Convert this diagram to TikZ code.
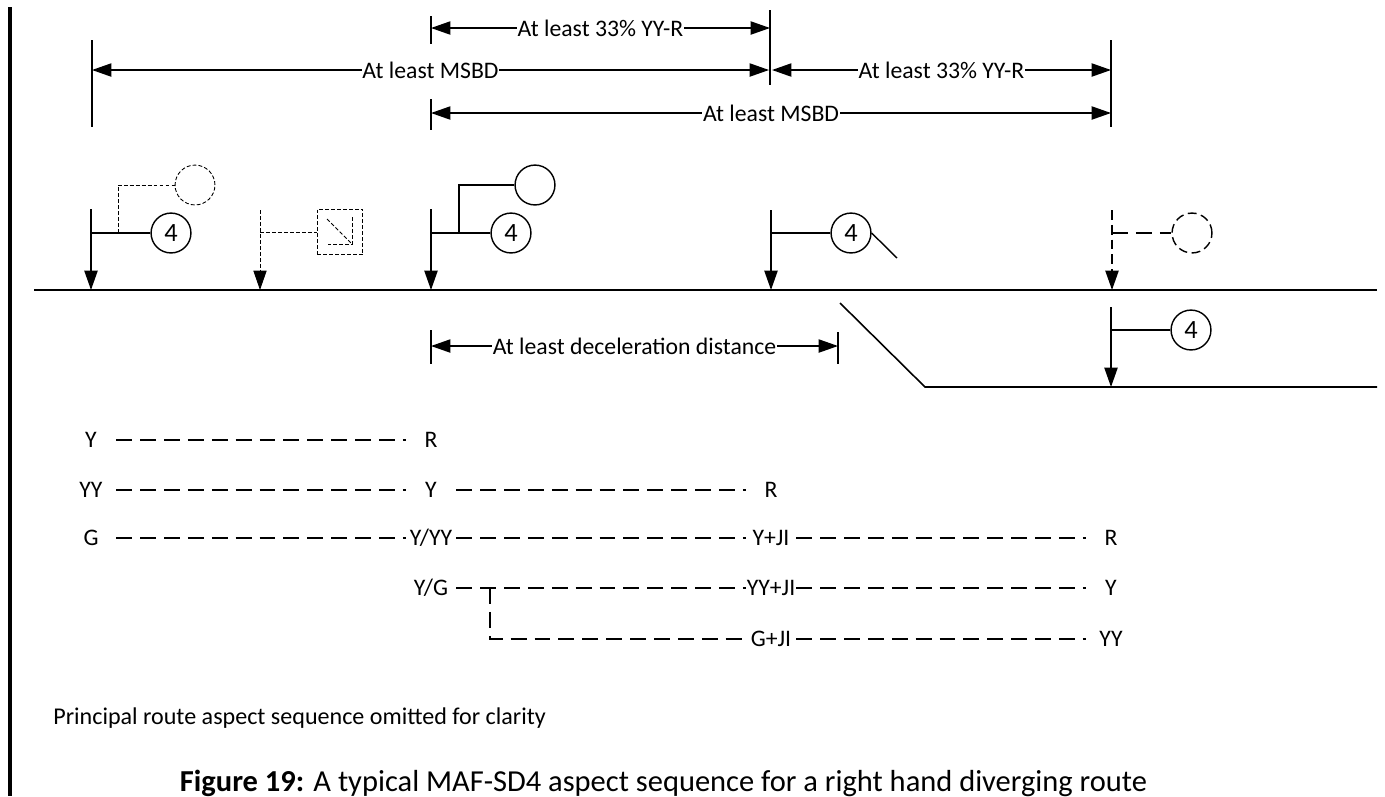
\documentclass[tikz,border=0pt]{standalone}
\usepackage{fontspec}
\setmainfont{Carlito}
\usetikzlibrary{arrows.meta}
\tikzset{
	px/.style={x=0.02cm,y=-0.02cm},
	tip/.style={>={Stealth[length=11pt,width=7.5pt,inset=0pt,black]}},
	dimline/.style={line width=0.8pt,tip,<->},
	dimtext/.style={fill=white,inner sep=0.3pt,font=\fontsize{13.5}{15}\selectfont},
	tick/.style={line width=0.8pt},
	post/.style={line width=0.9pt,tip,->},
	sig/.style={circle,draw,line width=0.8pt,minimum size=22.7pt,inner sep=0pt,font=\fontsize{15}{17}\selectfont},
	thindash/.style={line width=0.5pt,dash pattern=on 2.2pt off 1.2pt},
	bigdash/.style={line width=0.9pt,dash pattern=on 9pt off 4.6pt},
	asp/.style={minimum width=28.3pt,inner sep=0pt,font=\fontsize{13.5}{15}\selectfont},
}
\begin{document}
\begin{tikzpicture}[px]
		\useasboundingbox (0,0) rectangle (1385,796);
		\fill[black] (8,7) rectangle (12,796);

		% dimension ticks
		\coordinate (ta1) at (92,40);
		\coordinate (ta2) at (92,127);
		\coordinate (tb1) at (431,16);
		\coordinate (tb2) at (431,44);
		\coordinate (tc1) at (431,99);
		\coordinate (tc2) at (431,130);
		\coordinate (td1) at (770,10);
		\coordinate (td2) at (770,85);
		\coordinate (te1) at (1111,40);
		\coordinate (te2) at (1111,127);
		\coordinate (tf1) at (431,330);
		\coordinate (tf2) at (431,364);
		\coordinate (tg1) at (838,332);
		\coordinate (tg2) at (838,364);
		\draw[tick] (ta1) -- (ta2);
		\draw[tick] (tb1) -- (tb2);
		\draw[tick] (tc1) -- (tc2);
		\draw[tick] (td1) -- (td2);
		\draw[tick] (te1) -- (te2);
		\draw[tick] (tf1) -- (tf2);
		\draw[tick] (tg1) -- (tg2);

		% dimension arrows
		\draw[dimline] (431,28) coordinate (da) -- node[dimtext] (dat) {At least 33\% YY-R} (770,28) coordinate (db);
		\draw[dimline] (92,70) coordinate (dc) -- node[dimtext] (dct) {At least MSBD} (769,70) coordinate (dd);
		\draw[dimline] (772,70) coordinate (de) -- node[dimtext] (det) {At least 33\% YY-R} (1111,70) coordinate (df);
		\draw[dimline] (431,113) coordinate (dg) -- node[dimtext] (dgt) {At least MSBD} (1111,113) coordinate (dh);
		\draw[dimline] (431,346) coordinate (di) -- node[dimtext] (dit) {At least deceleration distance} (838,346) coordinate (dj);

		% tracks
		\coordinate (tra) at (34,290);
		\coordinate (trb) at (1377,290);
		\coordinate (trc) at (840,303);
		\coordinate (trd) at (925,387);
		\coordinate (tre) at (1377,387);
		\draw[line width=0.9pt] (tra) -- (trb);
		\draw[line width=0.9pt] (trc) -- (trd) -- (tre);

		% signals
		\node[sig] (sa) at (171,233) {4};
		\node[sig,thindash] (fa) at (195,185) {};
		\coordinate (pa1) at (91,209);
		\coordinate (pa2) at (91,290);
		\coordinate (aa) at (91,233);
		\coordinate (ba) at (118,233);
		\draw[post] (pa1) -- (pa2);
		\draw[line width=0.8pt] (aa) -- (sa);
		\draw[thindash] (ba) |- (fa);

		\node[draw,thindash,minimum size=26pt,inner sep=0pt] (sb) at (340,232) {};
		\coordinate (pb1) at (260,210);
		\coordinate (pb2) at (260,290);
		\coordinate (ab) at (260,232);
		\coordinate (ib1) at (327,219);
		\coordinate (ib2) at (352,244);
		\coordinate (ib3) at (352,217);
		\coordinate (ib4) at (328,244);
		\draw[thindash,tip,->] (pb1) -- (pb2);
		\draw[thindash] (ab) -- (sb);
		\draw[thindash] (ib1) -- (ib2);
		\draw[thindash] (ib3) -- (ib2) -- (ib4);

		\node[sig] (sc) at (511,233) {4};
		\node[sig] (fc) at (535,185) {};
		\coordinate (pc1) at (431,209);
		\coordinate (pc2) at (431,290);
		\coordinate (ac) at (431,233);
		\coordinate (bc) at (459,233);
		\draw[post] (pc1) -- (pc2);
		\draw[line width=0.8pt] (ac) -- (sc);
		\draw[line width=0.8pt] (bc) |- (fc);

		\node[sig] (sd) at (851,233) {4};
		\coordinate (pd1) at (771,210);
		\coordinate (pd2) at (771,290);
		\coordinate (ad) at (771,233);
		\coordinate (bd) at (897,258);
		\draw[post] (pd1) -- (pd2);
		\draw[line width=0.8pt] (ad) -- (sd);
		\draw[line width=0.8pt] (sd.east) -- (bd);

		\node[sig,dash pattern=on 5pt off 2.6pt] (se) at (1192,233) {};
		\coordinate (pe1) at (1112,210);
		\coordinate (pe2) at (1112,290);
		\coordinate (ae) at (1112,233);
		\draw[post,dash pattern=on 5.6pt off 2.8pt] (pe1) -- (pe2);
		\draw[line width=0.9pt,dash pattern=on 9pt off 4.6pt] (ae) -- (se);

		\node[sig] (sf) at (1191,330) {4};
		\coordinate (pf1) at (1111,307);
		\coordinate (pf2) at (1111,387);
		\coordinate (af) at (1111,330);
		\draw[post] (pf1) -- (pf2);
		\draw[line width=0.8pt] (af) -- (sf);

		% aspects
		\begin{scope}[every node/.style={asp}]
			\node (a1) at (91,440) {Y};
			\node (a2) at (431,440) {R};

			\node (b1) at (91,490) {YY};
			\node (b2) at (431,490) {Y};
			\node (b3) at (771,490) {R};

			\node (c1) at (91,538) {G};
			\node (c2) at (431,538) {Y/YY};
			\node (c3) at (771,538) {Y+JI};
			\node (c4) at (1111,538) {R};

			\node (d2) at (431,588) {Y/G};
			\node (d3) at (771,588) {YY+JI};
			\node (d4) at (1111,588) {Y};

			\node (e3) at (771,639) {G+JI};
			\node (e4) at (1111,639) {YY};
		\end{scope}
		\coordinate (br) at (490,588);
		\begin{scope}[bigdash]
			\draw (a1) -- (a2);
			\draw (b1) -- (b2);
			\draw (b2) -- (b3);
			\draw (c1) -- (c2);
			\draw (c2) -- (c3);
			\draw (c3) -- (c4);
			\draw (d2) -- (d3);
			\draw (d3) -- (d4);
			\draw (br) |- (e3);
			\draw (e3) -- (e4);
		\end{scope}

		\node[anchor=west,inner sep=0pt,font=\fontsize{13.7}{16}\selectfont] (note) at (53,718) {Principal route aspect sequence omitted for clarity};
		\node[anchor=base,inner sep=0pt,font=\fontsize{17.35}{20}\selectfont] (cap) at (663.5,791) {\textbf{Figure 19:} A typical MAF-SD4 aspect sequence for a right hand diverging route};
	\end{tikzpicture}
\end{document}
